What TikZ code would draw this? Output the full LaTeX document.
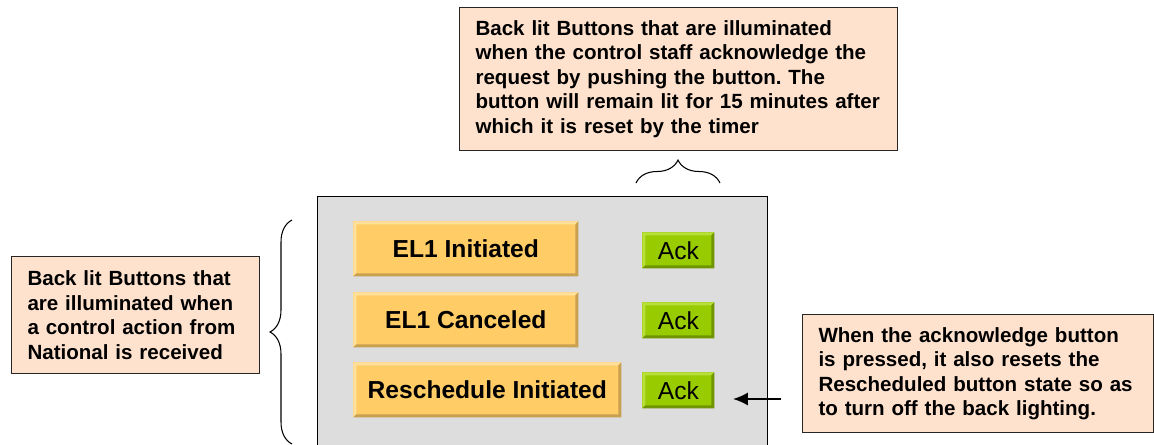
\documentclass[tikz,border=0pt]{standalone}
\usepackage{fontspec}
\setmainfont{Liberation Sans}
\frenchspacing
\usetikzlibrary{calc}
\usetikzlibrary{arrows.meta}
\usetikzlibrary{decorations.pathreplacing}

\definecolor{notefill}{HTML}{FFE2CD}
\definecolor{panelgray}{HTML}{DDDDDD}
\definecolor{btnorange}{HTML}{FFCC66}
\definecolor{btnlight}{HTML}{FFE09C}
\definecolor{btndark}{HTML}{C9A050}
\definecolor{ackgreen}{HTML}{99CC00}
\definecolor{acklight}{HTML}{B8DF3C}
\definecolor{ackdark}{HTML}{6F9600}

\tikzset{
  note/.style={draw=black!85,fill=notefill,line width=0.6pt,anchor=north west,align=left,
    inner xsep=0.32cm,inner ysep=0pt,font=\fontsize{11.7}{13.9}\selectfont\bfseries},
  bevel/.style 2 args={path picture={
      \coordinate (nw) at (path picture bounding box.north west);
      \coordinate (ne) at (path picture bounding box.north east);
      \coordinate (sw) at (path picture bounding box.south west);
      \coordinate (se) at (path picture bounding box.south east);
      \fill[#1] (sw)--(nw)--(ne)--([xshift=-0.06cm,yshift=-0.06cm]ne)--([xshift=0.06cm,yshift=-0.06cm]nw)--([xshift=0.06cm,yshift=0.06cm]sw)--cycle;
      \fill[#2] (sw)--(se)--(ne)--([xshift=-0.06cm,yshift=-0.06cm]ne)--([xshift=-0.06cm,yshift=0.06cm]se)--([xshift=0.06cm,yshift=0.06cm]sw)--cycle;
  }},
  btn/.style={fill=btnorange,bevel={btnlight}{btndark},inner sep=0pt,anchor=north west,
    minimum height=1.1cm,font=\fontsize{14}{16}\selectfont\bfseries},
  ack/.style={fill=ackgreen,bevel={acklight}{ackdark},inner sep=0pt,anchor=north west,
    minimum width=1.44cm,minimum height=0.72cm,font=\fontsize{14}{16}\selectfont},
  curly/.style={decorate,decoration={brace,amplitude=#1},line width=0.6pt}
}

\begin{document}
\begin{tikzpicture}[>={Latex[length=8.5pt,width=7.5pt]},x=0.02cm,y=-0.02cm]
            \useasboundingbox(0,0)rectangle(1154,444);
            \clip(0,0)rectangle(1154,444);
            \node[draw,fill=panelgray,line width=0.8pt,anchor=north west,minimum width=9cm,minimum height=5.2cm](panel)at(317,196){};
            \node[btn,minimum width=4.5cm](init)at(353,221){EL1 Initiated};
            \node[btn,minimum width=4.5cm](cancel)at(353,292){EL1 Canceled};
            \node[btn,minimum width=5.36cm](resched)at(353,362){Reschedule Initiated};
            \node[ack](ackinit)at(642,232){Ack};
            \node[ack](ackcancel)at(642,302){Ack};
            \node[ack](ackresched)at(642,372){Ack};
            \node[note,text width=8.12cm,minimum height=2.86cm](topnote)at(459,7){Back lit Buttons that are illuminated\\when the control staff acknowledge the\\request by pushing the button. The\\button will remain lit for 15 minutes after\\which it is reset by the timer};
            \node[note,text width=4.32cm,minimum height=2.34cm](leftnote)at(11,256){Back lit Buttons that\\are illuminated when\\a control action from\\National is received};
            \node[note,text width=6.38cm,minimum height=2.36cm](rightnote)at(802,314){When the acknowledge button\\is pressed, it also resets the\\Rescheduled button state so as\\to turn off the back lighting.};
            \coordinate(lbrbot)at(292,444);
            \coordinate(lbrtop)at(292,220);
            \draw[curly=0.44cm](lbrbot)--(lbrtop);
            \coordinate(tbrleft)at(636,183);
            \coordinate(tbrright)at(720,183);
            \draw[curly=0.46cm](tbrleft)--(tbrright);
            \coordinate(arrtail)at(781,399);
            \coordinate(arrtip)at(733,399);
            \draw[->,line width=1.1pt](arrtail)--(arrtip);
        \end{tikzpicture}
\end{document}
